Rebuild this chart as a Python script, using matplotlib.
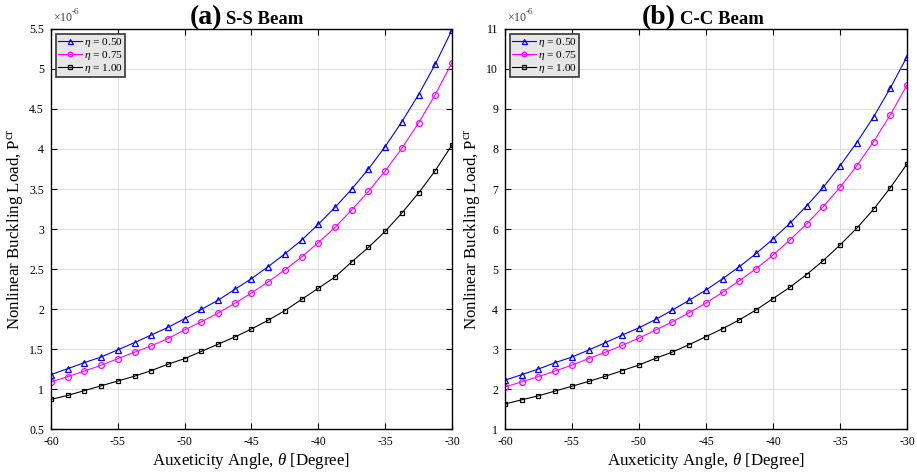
import matplotlib
matplotlib.use("Agg")
import matplotlib.pyplot as plt
import numpy as np
from matplotlib.ticker import FuncFormatter

plt.rcParams["font.family"] = ["Liberation Serif", "DejaVu Serif"]
plt.rcParams["mathtext.fontset"] = "custom"
plt.rcParams["mathtext.rm"] = "Liberation Serif"
plt.rcParams["mathtext.it"] = "Liberation Serif:italic"
plt.rcParams["axes.unicode_minus"] = False

# auxeticity angle (degree)
theta = [-60, -58.75, -57.5, -56.25, -55, -53.75, -52.5, -51.25, -50, -48.75,
         -47.5, -46.25, -45, -43.75, -42.5, -41.25, -40, -38.75, -37.5, -36.25,
         -35, -33.75, -32.5, -31.25, -30]

# S-S beam, P_cr (x 1e-6)
ss_050 = [1.18, 1.254, 1.33, 1.40, 1.49, 1.58, 1.675, 1.77, 1.88, 1.995,
          2.11, 2.245, 2.38, 2.53, 2.69, 2.86, 3.06, 3.27, 3.50, 3.75,
          4.03, 4.34, 4.68, 5.06, 5.49]
ss_075 = [1.09, 1.154, 1.225, 1.296, 1.38, 1.46, 1.54, 1.63, 1.74, 1.84,
          1.95, 2.07, 2.20, 2.34, 2.49, 2.65, 2.83, 3.02, 3.24, 3.47,
          3.725, 4.01, 4.325, 4.68, 5.08]
ss_100 = [0.87, 0.92, 0.98, 1.04, 1.10, 1.16, 1.23, 1.31, 1.38, 1.47,
          1.56, 1.65, 1.75, 1.86, 1.98, 2.12, 2.26, 2.40, 2.59, 2.77,
          2.97, 3.20, 3.45, 3.73, 4.05]

# C-C beam, P_cr (x 1e-6)
cc_050 = [2.22, 2.36, 2.50, 2.66, 2.80, 2.975, 3.16, 3.35, 3.53, 3.74,
          3.975, 4.22, 4.475, 4.76, 5.06, 5.39, 5.75, 6.14, 6.575, 7.04,
          7.58, 8.16, 8.80, 9.52, 10.31]
cc_075 = [2.05, 2.18, 2.31, 2.45, 2.60, 2.76, 2.92, 3.09, 3.275, 3.475,
          3.68, 3.91, 4.15, 4.42, 4.71, 5.01, 5.35, 5.72, 6.125, 6.56,
          7.04, 7.58, 8.18, 8.85, 9.60]
cc_100 = [1.625, 1.73, 1.83, 1.95, 2.07, 2.19, 2.32, 2.46, 2.60, 2.77,
          2.925, 3.11, 3.31, 3.51, 3.73, 3.98, 4.26, 4.54, 4.86, 5.21,
          5.60, 6.02, 6.49, 7.03, 7.625]

labels = [r"$\eta$ = 0.50", r"$\eta$ = 0.75", r"$\eta$ = 1.00"]
styles = [("#0000ff", "^", 4.5), ("#ff00ff", "o", 4.2), ("#000000", "s", 3.3)]

fig = plt.figure(figsize=(9.17, 4.73), dpi=100)
ax1 = fig.add_axes([0.0556, 0.093, 0.4373, 0.8457])
ax2 = fig.add_axes([0.5507, 0.093, 0.4384, 0.8457])


def draw(ax, series, ylim, yticks, tag, name):
    for y, lab, (c, m, ms) in zip(series, labels, styles):
        ax.plot(theta, y, color=c, marker=m, ms=ms, mfc="none", mec=c,
                mew=0.9, lw=0.8, label=lab)
    ax.set_xlim(-60, -30)
    ax.set_ylim(*ylim)
    ax.set_xticks(np.arange(-60, -29, 5))
    ax.set_yticks(yticks)
    ax.yaxis.set_major_formatter(FuncFormatter(lambda v, p: "%g" % v))
    ax.grid(True, color="#dedede", lw=0.7)
    ax.set_axisbelow(True)
    ax.tick_params(direction="in", top=True, right=True, labelsize=8.5,
                   length=4, width=0.8, pad=5)
    for s in ax.spines.values():
        s.set_linewidth(1.0)
    ax.set_xlabel(r"Auxeticity Angle, $\theta$ [Degree]", fontsize=12.2,
                  labelpad=2)
    ax.set_ylabel(r"Nonlinear Buckling Load, P$^{\rm cr}$", fontsize=12.2,
                  labelpad=3)
    ax.text(0.004, 1.012, r"$\times$10", transform=ax.transAxes,
            fontsize=8.5, ha="left", va="bottom", color="#404040")
    ax.text(0.052, 1.032, "-6", transform=ax.transAxes,
            fontsize=6.5, ha="left", va="bottom", color="#404040")
    ax.text(0.426, 1.012, tag, transform=ax.transAxes, fontsize=20,
            fontweight="bold", ha="right", va="baseline")
    ax.text(0.436, 1.012, name, transform=ax.transAxes, fontsize=13.5,
            fontweight="bold", ha="left", va="baseline")
    leg = ax.legend(loc="upper left", fontsize=8.2, fancybox=False,
                    framealpha=1, edgecolor="#444444", handlelength=2.1,
                    handletextpad=0.2, borderpad=0.15, labelspacing=0.0,
                    borderaxespad=0.45, markerscale=0.8)
    leg.get_frame().set_facecolor("#e6e6e6")
    leg.get_frame().set_linewidth(1.3)


draw(ax1, [ss_050, ss_075, ss_100], (0.5, 5.5), np.arange(0.5, 5.51, 0.5),
     "(a)", "S-S Beam")
draw(ax2, [cc_050, cc_075, cc_100], (1, 11), np.arange(1, 11.1, 1),
     "(b)", "C-C Beam")

fig.savefig("out.png", dpi=100)
